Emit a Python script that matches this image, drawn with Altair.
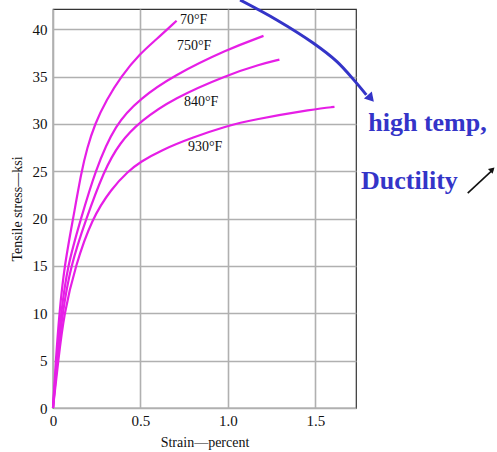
import altair as alt
import pandas as pd

# ---- data ----
strain_70 = [0, 0.016, 0.036, 0.065, 0.115, 0.163, 0.195, 0.239, 0.306, 0.388, 0.5, 0.59, 0.707]
stress_70 = [0, 5, 10, 15, 20, 25, 27.44, 30, 32.54, 35, 37.47, 38.9, 40.9]

strain_750 = [0, 0.02, 0.046, 0.082, 0.16, 0.24, 0.355, 0.5, 0.688, 1.0, 1.204]
stress_750 = [0, 5, 10, 15, 20, 25, 30, 32.7, 35.1, 37.9, 39.3]

strain_840 = [0, 0.024, 0.054, 0.1, 0.19, 0.29, 0.38, 0.5, 0.688, 1.0, 1.185, 1.295]
stress_840 = [0, 5, 10, 15, 20, 25, 28.0, 30.3, 32.7, 35.2, 36.3, 36.8]

strain_930 = [0, 0.03, 0.063, 0.128, 0.222, 0.336, 0.43, 0.5, 0.615, 0.8, 1.0, 1.127, 1.5, 1.61]
stress_930 = [0, 5, 10, 15, 20, 23.2, 25.0, 26.0, 27.2, 28.6, 29.8, 30.4, 31.6, 31.8]

curve_names = ["70°F", "750°F", "840°F", "930°F"]
label_x = [0.726, 0.709, 0.749, 0.772]
label_y = [40.93, 38.24, 32.27, 27.53]

x_ticks = [0, 0.5, 1.0, 1.5]
y_ticks = [0, 5, 10, 15, 20, 25, 30, 35, 40]

# annotation (blue arrow, texts, black arrow)
blue_x = [1.070, 1.280, 1.490, 1.624, 1.729, 1.792]
blue_y = [43.09, 40.98, 38.52, 36.58, 34.47, 33.07]
blue_head_x = [1.818]
blue_head_y = [32.70]
note_text = ["high temp,", "Ductility"]
note_x = [1.803, 1.762]
note_y = [29.30, 23.11]
black_x = [2.372, 2.515]
black_y = [22.69, 25.15]
black_head_x = [2.513]
black_head_y = [25.2]

# ---- tables ----
rows = []
for name, xs, ys in zip(curve_names, [strain_70, strain_750, strain_840, strain_930],
                        [stress_70, stress_750, stress_840, stress_930]):
    for i, (x, y) in enumerate(zip(xs, ys)):
        rows.append({"curve": name, "i": i, "strain": x, "stress": y})
curves_df = pd.DataFrame(rows)
labels_df = pd.DataFrame({"t": curve_names, "strain": label_x, "stress": label_y})
blue_df = pd.DataFrame({"i": list(range(len(blue_x))), "strain": blue_x, "stress": blue_y})
blue_head_df = pd.DataFrame({"strain": blue_head_x, "stress": blue_head_y})
note_df = pd.DataFrame({"t": note_text, "strain": note_x, "stress": note_y})
black_df = pd.DataFrame({"i": [0, 1], "strain": black_x, "stress": black_y})
black_head_df = pd.DataFrame({"strain": black_head_x, "stress": black_head_y})

FONT = "Liberation Serif"
xs = alt.Scale(domain=[0, 1.733], nice=False, zero=False)
ys = alt.Scale(domain=[0, 42.14], nice=False, zero=False)

X = alt.X("strain:Q", scale=xs, axis=alt.Axis(
    values=x_ticks, title="Strain—percent",
    labelExpr="datum.value == 0 ? '0' : format(datum.value, '.1f')",
    ticks=False, domain=False, labelPadding=5, labelFontSize=15, labelFont=FONT,
    labelColor="#111", titleFont=FONT, titleFontSize=14, titleFontWeight="normal",
    titleColor="#111", titlePadding=7, grid=True, gridColor="#b0b0b0", gridWidth=1.6,
    labelFlush=False))
Y = alt.Y("stress:Q", scale=ys, axis=alt.Axis(
    values=y_ticks, title="Tensile stress—ksi",
    ticks=False, domain=False, labelPadding=6, labelFontSize=15, labelFont=FONT,
    labelColor="#111", titleFont=FONT, titleFontSize=14, titleFontWeight="normal",
    titleColor="#111", titlePadding=8, grid=True, gridColor="#b0b0b0", gridWidth=1.6,
    labelFlush=False))

lines = alt.Chart(curves_df).mark_line(
    color="#e61ee6", strokeWidth=2.2, interpolate="basis"
).encode(x=X, y=Y, detail="curve:N", order="i:Q")

labels = alt.Chart(labels_df).mark_text(
    align="left", baseline="middle", font=FONT, fontSize=14, color="#111"
).encode(x=alt.X("strain:Q", scale=xs), y=alt.Y("stress:Q", scale=ys), text="t:N")

blue = alt.Chart(blue_df).mark_line(
    color="#3434c8", strokeWidth=3, interpolate="catmull-rom", clip=False
).encode(x=alt.X("strain:Q", scale=xs), y=alt.Y("stress:Q", scale=ys), order="i:Q")

blue_head = alt.Chart(blue_head_df).mark_point(
    shape="triangle-up", filled=True, color="#3434c8", size=110, angle=139, opacity=1
).encode(x=alt.X("strain:Q", scale=xs), y=alt.Y("stress:Q", scale=ys))

notes = alt.Chart(note_df).mark_text(
    align="left", baseline="alphabetic", font=FONT, fontSize=26, fontWeight="bold",
    color="#3434c8"
).encode(x=alt.X("strain:Q", scale=xs), y=alt.Y("stress:Q", scale=ys), text="t:N")

black = alt.Chart(black_df).mark_line(color="#111", strokeWidth=1.6).encode(
    x=alt.X("strain:Q", scale=xs), y=alt.Y("stress:Q", scale=ys), order="i:Q")

black_head = alt.Chart(black_head_df).mark_point(
    shape="triangle-up", filled=True, color="#111", size=45, angle=46, opacity=1
).encode(x=alt.X("strain:Q", scale=xs), y=alt.Y("stress:Q", scale=ys))

chart = alt.layer(lines, labels, blue, blue_head, notes, black, black_head).properties(
    width=303, height=399,
    autosize=alt.AutoSizeParams(type="none"),
    padding={"left": 53, "top": 9, "right": 141, "bottom": 44},
    background="white",
).configure_view(stroke="#333", strokeWidth=1.2)

chart.save("out.html", embed_options={"renderer": "svg", "actions": False})
